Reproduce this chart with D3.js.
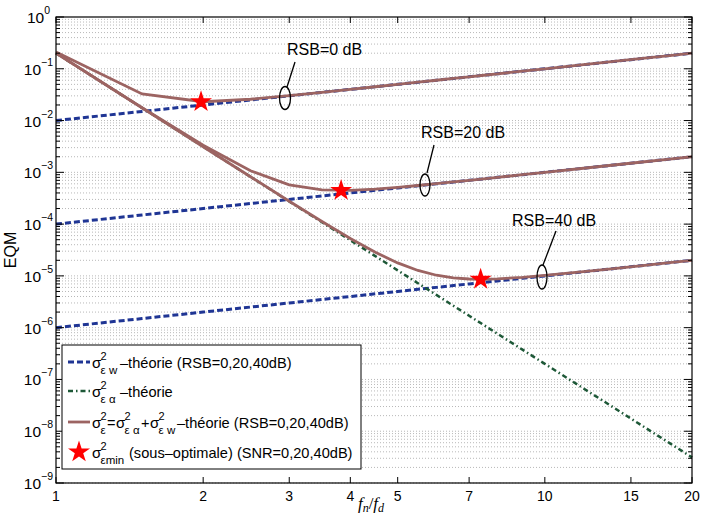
<!DOCTYPE html>
<html>
<head>
<meta charset="utf-8">
<script src="https://cdnjs.cloudflare.com/ajax/libs/d3/7.8.5/d3.min.js"></script>
<style>
  body { margin: 0; background: #fff; }
  text { font-family: "Liberation Sans", Arial, sans-serif; fill: #000; }
  .grid line { stroke: #b8b8b8; stroke-width: 1; stroke-dasharray: 1,2; }
</style>
</head>
<body>
<div id="chart"></div>
<script>
  // values
  var fRatio = [1, 1.5, 2, 2.5, 3, 3.5, 4, 4.5, 5, 5.5, 6, 6.5, 7, 7.5, 8, 9, 10, 12, 14, 16, 18, 20];

  var noise0  = [1e-2, 1.5e-2, 2e-2, 2.5e-2, 3e-2, 3.5e-2, 4e-2, 4.5e-2, 5e-2, 5.5e-2, 6e-2, 6.5e-2, 7e-2, 7.5e-2, 8e-2, 9e-2, 0.1, 0.12, 0.14, 0.16, 0.18, 0.2];
  var noise20 = [1e-4, 1.5e-4, 2e-4, 2.5e-4, 3e-4, 3.5e-4, 4e-4, 4.5e-4, 5e-4, 5.5e-4, 6e-4, 6.5e-4, 7e-4, 7.5e-4, 8e-4, 9e-4, 1e-3, 1.2e-3, 1.4e-3, 1.6e-3, 1.8e-3, 2e-3];
  var noise40 = [1e-6, 1.5e-6, 2e-6, 2.5e-6, 3e-6, 3.5e-6, 4e-6, 4.5e-6, 5e-6, 5.5e-6, 6e-6, 6.5e-6, 7e-6, 7.5e-6, 8e-6, 9e-6, 1e-5, 1.2e-5, 1.4e-5, 1.6e-5, 1.8e-5, 2e-5];

  var alphaErr = [0.2, 1.756e-2, 3.125e-3, 8.19e-4, 2.74e-4, 1.088e-4, 4.88e-5, 2.41e-5, 1.28e-5, 7.23e-6, 4.29e-6, 2.65e-6, 1.70e-6, 1.124e-6, 7.63e-7, 3.76e-7, 2.0e-7, 6.7e-8, 2.66e-8, 1.19e-8, 5.88e-9, 3.13e-9];

  var total0  = [0.21, 3.26e-2, 2.31e-2, 2.58e-2, 3.03e-2, 3.51e-2, 4.0e-2, 4.5e-2, 5.0e-2, 5.5e-2, 6.0e-2, 6.5e-2, 7.0e-2, 7.5e-2, 8.0e-2, 9.0e-2, 0.1, 0.12, 0.14, 0.16, 0.18, 0.2];
  var total20 = [0.2001, 1.771e-2, 3.325e-3, 1.069e-3, 5.74e-4, 4.59e-4, 4.49e-4, 4.74e-4, 5.13e-4, 5.57e-4, 6.04e-4, 6.53e-4, 7.02e-4, 7.51e-4, 8.01e-4, 9.0e-4, 1.0e-3, 1.2e-3, 1.4e-3, 1.6e-3, 1.8e-3, 2.0e-3];
  var total40 = [0.2, 1.756e-2, 3.127e-3, 8.21e-4, 2.77e-4, 1.123e-4, 5.28e-5, 2.86e-5, 1.78e-5, 1.273e-5, 1.029e-5, 9.15e-6, 8.70e-6, 8.62e-6, 8.76e-6, 9.38e-6, 1.02e-5, 1.207e-5, 1.403e-5, 1.601e-5, 1.801e-5, 2.0e-5];

  var starX = [1.98, 3.83, 7.39];
  var starY = [2.31e-2, 4.46e-4, 8.6e-6];

  var xTicks = [1, 2, 3, 4, 5, 7, 10, 15, 20];
  var yDecades = [0, -1, -2, -3, -4, -5, -6, -7, -8, -9];

  var margin = {top: 17, right: 10, bottom: 39, left: 56},
      width = 702 - margin.left - margin.right,
      height = 522 - margin.top - margin.bottom;

  var blue = "#1f3594", green = "#1d5837", brown = "#9c6462";

  var x = d3.scaleLog().domain([1, 20]).range([0, width]);
  var y = d3.scaleLog().domain([1e-9, 1]).range([height, 0]);

  var svg = d3.select("#chart").append("svg")
      .attr("width", 702)
      .attr("height", 522)
    .append("g")
      .attr("transform", "translate(" + margin.left + "," + margin.top + ")");

  // minor + major horizontal grid
  var yGrid = [];
  yDecades.forEach(function(e) {
    if (e < 0) for (var m = 1; m < 10; m++) yGrid.push(m * Math.pow(10, e));
  });
  svg.append("g").attr("class", "grid")
    .selectAll("line").data(yGrid).enter().append("line")
      .attr("x1", 0).attr("x2", width)
      .attr("y1", function(d) { return y(d); })
      .attr("y2", function(d) { return y(d); });

  var line = d3.line()
      .x(function(d) { return x(d[0]); })
      .y(function(d) { return y(d[1]); });

  function series(vals) { return fRatio.map(function(f, i) { return [f, vals[i]]; }); }

  [noise0, noise20, noise40].forEach(function(v) {
    svg.append("path").datum(series(v))
      .attr("d", line).attr("fill", "none")
      .attr("stroke", blue).attr("stroke-width", 3)
      .attr("stroke-dasharray", "6,3");
  });

  svg.append("path").datum(series(alphaErr))
    .attr("d", line).attr("fill", "none")
    .attr("stroke", green).attr("stroke-width", 2.5)
    .attr("stroke-dasharray", "5,3,1.5,3");

  [total0, total20, total40].forEach(function(v) {
    svg.append("path").datum(series(v))
      .attr("d", line).attr("fill", "none")
      .attr("stroke", brown).attr("stroke-width", 2.8);
  });

  var star = d3.symbol().type(d3.symbolStar).size(150);
  svg.selectAll(".star").data(starX).enter().append("path")
    .attr("class", "star")
    .attr("d", star)
    .attr("fill", "#ff0000")
    .attr("transform", function(d, i) { return "translate(" + x(d) + "," + y(starY[i]) + ")"; });

  // annotations (text, pointer, ellipse) in pixel space of the plot
  var notes = [
    {label: "RSB=0 dB",  tx: 231, ty: 38,  x1: 239, y1: 45,  x2: 231, y2: 70,  cx: 229, cy: 81,  rx: 5.5, ry: 11.5},
    {label: "RSB=20 dB", tx: 365, ty: 121, x1: 378, y1: 128, x2: 371, y2: 156, cx: 369, cy: 168, rx: 5,   ry: 11},
    {label: "RSB=40 dB", tx: 456, ty: 209, x1: 500, y1: 214, x2: 487, y2: 248, cx: 486, cy: 260, rx: 5,   ry: 12}
  ];
  notes.forEach(function(n) {
    svg.append("text").attr("x", n.tx).attr("y", n.ty)
      .style("font-size", "16px").text(n.label);
    svg.append("line").attr("x1", n.x1).attr("y1", n.y1).attr("x2", n.x2).attr("y2", n.y2)
      .attr("stroke", "#000").attr("stroke-width", 1.3);
    svg.append("ellipse").attr("cx", n.cx).attr("cy", n.cy).attr("rx", n.rx).attr("ry", n.ry)
      .attr("fill", "none").attr("stroke", "#000").attr("stroke-width", 1.3);
  });

  // frame
  svg.append("rect").attr("width", width).attr("height", height)
    .attr("fill", "none").attr("stroke", "#000").attr("stroke-width", 1.2);

  // x ticks (bottom and top, inward)
  var ax = svg.append("g");
  xTicks.forEach(function(t) {
    ax.append("line").attr("x1", x(t)).attr("x2", x(t)).attr("y1", height).attr("y2", height - 6)
      .attr("stroke", "#000");
    ax.append("line").attr("x1", x(t)).attr("x2", x(t)).attr("y1", 0).attr("y2", 6)
      .attr("stroke", "#000");
    ax.append("text").attr("x", x(t)).attr("y", height + 18)
      .attr("text-anchor", "middle").style("font-size", "14px").text(t);
  });

  // y ticks
  var ay = svg.append("g");
  yDecades.forEach(function(e) {
    var v = Math.pow(10, e);
    [[0, 8], [width, width - 8]].forEach(function(s) {
      ay.append("line").attr("x1", s[0]).attr("x2", s[1]).attr("y1", y(v)).attr("y2", y(v)).attr("stroke", "#000");
    });
    if (e < 0) {
      for (var m = 2; m < 10; m++) {
        var mv = m * Math.pow(10, e);
        [[0, 4], [width, width - 4]].forEach(function(s) {
          ay.append("line").attr("x1", s[0]).attr("x2", s[1]).attr("y1", y(mv)).attr("y2", y(mv)).attr("stroke", "#000");
        });
      }
    }
    var lbl = ay.append("text").attr("x", e === 0 ? -6 : -3).attr("y", y(v) + 6)
      .attr("text-anchor", "end").style("font-size", "15.5px");
    lbl.append("tspan").text("10");
    lbl.append("tspan").attr("dy", -9).style("font-size", "10.5px").text(e === 0 ? "0" : "\u2212" + (-e));
  });

  // axis titles
  svg.append("text")
    .attr("transform", "translate(" + (-40) + "," + (height / 2) + ") rotate(-90)")
    .attr("text-anchor", "middle").style("font-size", "16px").text("EQM");

  var xl = svg.append("text").attr("x", width / 2 - 3).attr("y", height + 26)
    .attr("text-anchor", "middle")
    .style("font-family", "'Liberation Serif', 'DejaVu Serif', serif").style("font-size", "17px");
  xl.append("tspan").style("font-style", "italic").text("f");
  xl.append("tspan").style("font-style", "italic").style("font-size", "12px").attr("dy", 3).text("n");
  xl.append("tspan").attr("dy", -3).text("/");
  xl.append("tspan").style("font-style", "italic").text("f");
  xl.append("tspan").style("font-style", "italic").style("font-size", "12px").attr("dy", 3).text("d");

  // legend
  var lg = svg.append("g").attr("transform", "translate(6,328)");
  lg.append("rect").attr("width", 299).attr("height", 124)
    .attr("fill", "#fff").attr("stroke", "#000").attr("stroke-width", 1);

  function sigma(g, px, py, sub) {
    g.append("text").attr("x", px).attr("y", py).style("font-size", "15px").text("\u03c3");
    g.append("text").attr("x", px + 8.6).attr("y", py - 8).style("font-size", "11px").text("2");
    g.append("text").attr("x", px + 8.6).attr("y", py + 6).style("font-size", "11.5px").text(sub);
  }
  function plain(g, px, py, str) {
    g.append("text").attr("x", px).attr("y", py).style("font-size", "14.6px").text(str);
  }

  var rows = [17, 46, 77, 107];
  lg.append("line").attr("x1", 6).attr("x2", 28).attr("y1", rows[0]).attr("y2", rows[0])
    .attr("stroke", blue).attr("stroke-width", 3).attr("stroke-dasharray", "6,3");
  sigma(lg, 30, rows[0] + 6, "\u03b5 w");
  plain(lg, 58, rows[0] + 6, "\u2013th\u00e9orie (RSB=0,20,40dB)");

  lg.append("line").attr("x1", 6).attr("x2", 28).attr("y1", rows[1]).attr("y2", rows[1])
    .attr("stroke", green).attr("stroke-width", 2.5).attr("stroke-dasharray", "5,3,1.5,3");
  sigma(lg, 30, rows[1] + 6, "\u03b5 \u03b1");
  plain(lg, 58, rows[1] + 6, "\u2013th\u00e9orie");

  lg.append("line").attr("x1", 6).attr("x2", 28).attr("y1", rows[2]).attr("y2", rows[2])
    .attr("stroke", brown).attr("stroke-width", 2.8);
  sigma(lg, 30, rows[2] + 6, "\u03b5");
  plain(lg, 45, rows[2] + 6, "=");
  sigma(lg, 54, rows[2] + 6, "\u03b5 \u03b1");
  plain(lg, 79, rows[2] + 6, "+");
  sigma(lg, 88, rows[2] + 6, "\u03b5 w");
  plain(lg, 115, rows[2] + 6, "\u2013th\u00e9orie (RSB=0,20,40dB)");

  lg.append("path").attr("d", star).attr("fill", "#ff0000")
    .attr("transform", "translate(17," + rows[3] + ")");
  sigma(lg, 30, rows[3] + 6, "\u03b5min");
  plain(lg, 67, rows[3] + 6, "(sous\u2013optimale) (SNR=0,20,40dB)");
</script>
</body>
</html>
